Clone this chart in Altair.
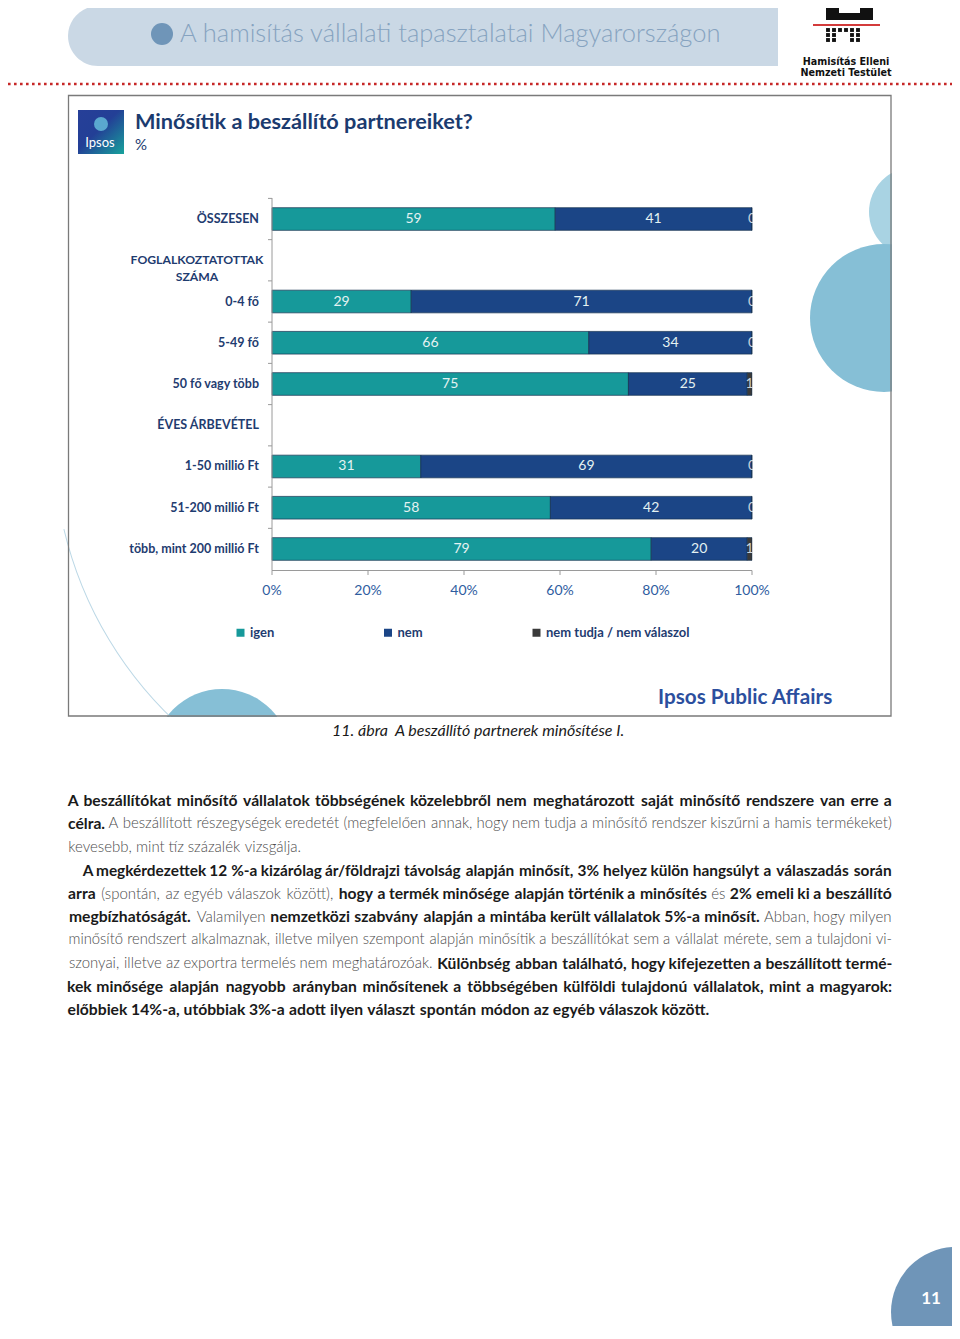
import unicodedata
import altair as alt
import pandas as pd

W, H = 944, 1318
OX, OY = 8, 8


def px(x):
    return x - OX


def py(y):
    return y - OY


# ---------------- data ----------------
categories = ["ÖSSZESEN", "FOGLALKOZTATOTTAK SZÁMA", "0-4 fő", "5-49 fő", "50 fő vagy több",
              "ÉVES ÁRBEVÉTEL", "1-50 millió Ft", "51-200 millió Ft", "több, mint 200 millió Ft"]
bar_categories = ["ÖSSZESEN", "0-4 fő", "5-49 fő", "50 fő vagy több",
                  "1-50 millió Ft", "51-200 millió Ft", "több, mint 200 millió Ft"]
series = ["igen", "nem", "nem tudja / nem válaszol"]
igen = [59, 29, 66, 75, 31, 58, 79]
nem = [41, 71, 34, 25, 69, 42, 20]
nem_tudja = [0, 0, 0, 1, 0, 0, 1]
x_ticks = [0, 20, 40, 60, 80, 100]
x_tick_labels = ["0%", "20%", "40%", "60%", "80%", "100%"]
right_labels = ["ÖSSZESEN", "0-4 fő", "5-49 fő", "50 fő vagy több", "ÉVES ÁRBEVÉTEL",
                "1-50 millió Ft", "51-200 millió Ft", "több, mint 200 millió Ft"]
colors = ["#16999a", "#1b4586", "#3a3a3a"]

rows = []
for i, c in enumerate(bar_categories):
    for k, (s, vals) in enumerate(zip(series, [igen, nem, nem_tudja])):
        rows.append({"cat": c, "series": s, "value": vals[i], "ord": k})
df = pd.DataFrame(rows)

NAVY = "#1f3c70"
x_scale = alt.Scale(domain=[0, 100], range=[px(272), px(752)], nice=False, zero=False)
y_scale = alt.Scale(domain=categories, range=[py(198.4), py(569.6)], paddingInner=0.45, paddingOuter=0.225)

one = alt.Data(values=[{}])


def txt(text, x, y, size, color, weight="normal", align="left", font="Lato", style="normal", baseline="middle"):
    return alt.Chart(one).mark_text(text=text, align=align, baseline=baseline, font=font, fontSize=size,
                                    fontWeight=weight, fontStyle=style, color=color).encode(
        x=alt.value(px(x)), y=alt.value(py(y)))


def rect(x1, x2, y1, y2, color, **kw):
    return alt.Chart(one).mark_rect(color=color, **kw).encode(
        x=alt.value(px(x1)), x2=alt.value(px(x2)), y=alt.value(py(y1)), y2=alt.value(py(y2)))


def circ(x, y, r, color, opacity=1.0):
    # vega symbol size is the area of the bounding square
    return alt.Chart(one).mark_circle(color=color, opacity=opacity, size=(2 * r) ** 2).encode(
        x=alt.value(px(x)), y=alt.value(py(y)))


layers = []

# ---------------- decorative background of chart box ----------------
layers.append(circ(914, 212, 45, "#a9d3e3"))
layers.append(circ(884, 318, 74, "#86bfd6"))
layers.append(circ(222, 758, 69, "#86bfd6"))
layers.append(alt.Chart(one).mark_arc(color="#bcd8e6").encode(
    x=alt.value(px(440)), y=alt.value(py(440)), theta=alt.value(3.86), theta2=alt.value(4.48),
    radius=alt.value(387), radius2=alt.value(386)))
# masks outside the box
layers.append(rect(892, 960, 90, 740, "white"))
layers.append(rect(40, 900, 717, 850, "white"))
# box border
layers.append(alt.Chart(one).mark_rect(fillOpacity=0, stroke="#7a7a7a", strokeWidth=1.3).encode(
    x=alt.value(px(68.5)), x2=alt.value(px(891)), y=alt.value(py(95.5)), y2=alt.value(py(716))))

# ---------------- page header ----------------
layers.append(alt.Chart(one).mark_rect(color="#cad8e5", cornerRadius=30).encode(
    x=alt.value(px(68)), x2=alt.value(px(778)), y=alt.value(py(6)), y2=alt.value(py(66))))
layers.append(rect(730, 778, 6, 66, "#cad8e5"))
layers.append(circ(162, 34, 11, "#6f95b8"))
layers.append(txt("A hamisítás vállalati tapasztalatai Magyarországon", 180, 34, 25.5, "#86a3c0", weight=300))

# logo
layers.append(rect(826, 839, 8, 20, "#111111"))
layers.append(rect(860, 873, 8, 20, "#111111"))
layers.append(rect(826, 873, 13, 20, "#111111"))
layers.append(alt.Chart(one).mark_rule(color="#d33b3b", strokeWidth=1.8).encode(
    x=alt.value(px(813)), x2=alt.value(px(880)), y=alt.value(py(25))))
dots = pd.DataFrame({"dx": [828, 834, 840, 846, 852, 858, 828, 834, 852, 858, 828, 834, 852, 858],
                     "dy": [30, 30, 30, 30, 30, 30, 35, 35, 35, 35, 40, 40, 40, 40]})
dots["dx"] = dots["dx"] - OX
dots["dy"] = dots["dy"] - OY
layers.append(alt.Chart(dots).mark_square(color="#111111", size=15, opacity=1).encode(
    x=alt.X("dx:Q", scale=None), y=alt.Y("dy:Q", scale=None)))
layers.append(txt("Hamisítás Elleni", 846, 62, 9.6, "#111111", weight="bold", align="center", font="DejaVu Sans"))
layers.append(txt("Nemzeti Testület", 846, 73, 9.6, "#111111", weight="bold", align="center", font="DejaVu Sans"))
layers.append(alt.Chart(one).mark_rule(color="#c62828", strokeWidth=2.6, strokeDash=[2.6, 3.4]).encode(
    x=alt.value(0), x2=alt.value(W), y=alt.value(py(84))))

# ---------------- chart title & Ipsos logo ----------------
grad = alt.LinearGradient(gradient="linear", x1=0, y1=0, x2=1, y2=1,
                          stops=[alt.GradientStop(color="#263f98", offset=0),
                                 alt.GradientStop(color="#233f96", offset=0.45),
                                 alt.GradientStop(color="#17a39c", offset=1)])
layers.append(alt.Chart(one).mark_rect(color=grad).encode(
    x=alt.value(px(78)), x2=alt.value(px(124)), y=alt.value(py(110)), y2=alt.value(py(154))))
layers.append(circ(101, 124, 7, "#5aa8cf"))
layers.append(txt("Ipsos", 100, 143, 13, "white", align="center", weight="normal"))
layers.append(txt("Minősítik a beszállító partnereiket?", 135, 122, 21.7, "#1b3b6f", weight="bold"))
layers.append(txt("%", 135, 145, 15, "#1b3b6f"))

# ---------------- bars ----------------
stacked = alt.Chart(df).transform_stack(
    stack="value", groupby=["cat"], as_=["v0", "v1"], offset="normalize",
    sort=[alt.SortField("ord", order="ascending")]
).transform_calculate(x0="datum.v0*100", x1="datum.v1*100", mid="(datum.v0+datum.v1)*50")

bars = stacked.mark_bar(stroke="#14304f", strokeWidth=0.7).encode(
    y=alt.Y("cat:N", scale=y_scale, axis=None),
    x=alt.X("x0:Q", scale=x_scale, axis=None),
    x2="x1:Q",
    color=alt.Color("series:N", scale=alt.Scale(domain=series, range=colors),
                    legend=alt.Legend(orient="none", legendX=px(234), legendY=py(626), direction="horizontal",
                                      title=None, symbolType="square", symbolSize=64, symbolStrokeWidth=0,
                                      labelFont="Lato", labelFontWeight="bold", labelFontSize=13,
                                      labelColor=NAVY, columnPadding=106.5, labelOffset=3, padding=0)),
)
layers.append(bars)

vlabels = stacked.mark_text(font="Lato", fontSize=14, baseline="middle", align="center").encode(
    y=alt.Y("cat:N", scale=y_scale, axis=None),
    x=alt.X("mid:Q", scale=x_scale, axis=None),
    text=alt.Text("value:Q"),
    color=alt.condition("datum.ord == 2", alt.value("#c9d2dc"), alt.value("#e4f2f2")),
)
layers.append(vlabels)
# clip labels at the bar end
layers.append(rect(752.6, 775, 196, 569, "white"))

# y axis
layers.append(alt.Chart(alt.Data(values=[{"a": 0}])).mark_rule(color="#9a9a9a", strokeWidth=1).encode(
    x=alt.X("a:Q", scale=x_scale, axis=None), y=alt.value(py(198)), y2=alt.value(py(570.5))))
layers.append(alt.Chart(pd.DataFrame({"cat": categories})).mark_rule(color="#9a9a9a", yOffset=-9.28).encode(
    y=alt.Y("cat:N", scale=y_scale, axis=None, bandPosition=0),
    x=alt.value(px(268)), x2=alt.value(px(272))))
# x axis
layers.append(alt.Chart(alt.Data(values=[{"a": 0, "b": 100}])).mark_rule(color="#9a9a9a").encode(
    x=alt.X("a:Q", scale=x_scale, axis=None), x2="b:Q", y=alt.value(py(570.5))))
tick_df = pd.DataFrame({"t": x_ticks, "lab": x_tick_labels})
layers.append(alt.Chart(tick_df).mark_rule(color="#9a9a9a").encode(
    x=alt.X("t:Q", scale=x_scale, axis=None), y=alt.value(py(570.5)), y2=alt.value(py(575))))
layers.append(alt.Chart(tick_df).mark_text(font="Lato", fontSize=14, color="#2f5d9f", baseline="middle").encode(
    x=alt.X("t:Q", scale=x_scale, axis=None), y=alt.value(py(591)), text="lab:N"))

# category labels
lab_df = pd.DataFrame({"cat": right_labels})
layers.append(alt.Chart(lab_df).mark_text(font="Lato", fontSize=12.5, fontWeight="bold", color=NAVY,
                                          align="right", baseline="middle").encode(
    y=alt.Y("cat:N", scale=y_scale, axis=None), x=alt.value(px(259)), text="cat:N"))
layers.append(alt.Chart(pd.DataFrame({"cat": ["FOGLALKOZTATOTTAK SZÁMA"],
                                      "lab": ["FOGLALKOZTATOTTAK\nSZÁMA"]})).mark_text(
    font="Lato", fontSize=12.2, fontWeight="bold", color=NAVY, align="center", baseline="middle",
    lineBreak="\n", lineHeight=17).encode(
    y=alt.Y("cat:N", scale=y_scale, axis=None), x=alt.value(px(197)), text="lab:N"))

layers.append(txt("Ipsos Public Affairs", 658, 698, 20.7, "#2c4f9e", weight="bold"))

# caption
layers.append(txt("11. ábra", 332, 731, 16, "#1a1a1a", style="italic"))
layers.append(txt("A beszállító partnerek minősítése I.", 395, 731, 16, "#1a1a1a", style="italic"))

# ---------------- body text (justified word by word) ----------------
BOLD_SIZE = 15.7
LIGHT_SIZE = 15.0
BOLD_COL = "#1a1a1a"
LIGHT_COL = "#4d4d4d"
MIN_GAP = 3.6

REL = {}
for ch in "iljI.,:;!'|": REL[ch] = 0.24
for ch in "ftr()-/": REL[ch] = 0.34
for ch in "cskxz": REL[ch] = 0.44
for ch in "aegvy": REL[ch] = 0.51
for ch in "bdhnopqu": REL[ch] = 0.56
for ch in "mw": REL[ch] = 0.82
for ch in "0123456789": REL[ch] = 0.58
REL["%"] = 0.80
REL[" "] = 0.20
REL["M"] = 0.85
REL["W"] = 0.9


def raw_w(s):
    t = 0.0
    for ch in s:
        base = unicodedata.normalize("NFD", ch)[0]
        if base in REL:
            t += REL[base]
        elif base.isupper():
            t += 0.64
        else:
            t += 0.52
    return t


# calibration: measured rendered widths at 13.6 px
CAL_B = 552.0 / (13.6 * raw_w("előbbiek 14%-a, utóbbiak 3%-a adott ilyen választ spontán módon az egyéb válaszok között."))
CAL_L = 210.0 / (13.6 * raw_w("kevesebb, mint tíz százalék vizsgálja."))

body_lines = [
    (801, 68, True, [("A beszállítókat minősítő vállalatok többségének közelebbről nem meghatározott "
                      "saját minősítő rendszere van erre a", True)]),
    (824, 68, True, [("célra.", True),
                     ("A beszállított részegységek eredetét (megfelelően annak, hogy nem tudja a "
                      "minősítő rendszer kiszűrni a hamis termékeket)", False)]),
    (847, 68, False, [("kevesebb, mint tíz százalék vizsgálja.", False)]),
    (871, 83, True, [("A megkérdezettek 12 %-a kizárólag ár/földrajzi távolság alapján minősít, "
                      "3% helyez külön hangsúlyt a válaszadás során", True)]),
    (894, 68, True, [("arra", True), ("(spontán, az egyéb válaszok között),", False),
                     ("hogy a termék minősége alapján történik a minősítés", True), ("és", False),
                     ("2% emeli ki a beszállító", True)]),
    (917, 68, True, [("megbízhatóságát.", True), ("Valamilyen", False),
                     ("nemzetközi szabvány alapján a mintába került vállalatok 5%-a minősít.", True),
                     ("Abban, hogy milyen", False)]),
    (940, 68, True, [("minősítő rendszert alkalmaznak, illetve milyen szempont alapján minősítik a "
                      "beszállítókat sem a vállalat mérete, sem a tulajdoni vi-", False)]),
    (964, 68, True, [("szonyai, illetve az exportra termelés nem meghatározóak.", False),
                     ("Különbség abban található, hogy kifejezetten a beszállított termé-", True)]),
    (987, 68, True, [("kek minősége alapján nagyobb arányban minősítenek a többségében külföldi "
                      "tulajdonú vállalatok, mint a magyarok:", True)]),
    (1010, 68, False, [("előbbiek 14%-a, utóbbiak 3%-a adott ilyen választ spontán módon az egyéb "
                        "válaszok között.", True)]),
]
X_END = 892
word_rows = []
for yy, x0, just, runs in body_lines:
    words = []
    for t, b in runs:
        for w in t.split(" "):
            words.append((w, b))
    ests = [raw_w(w) * (BOLD_SIZE * CAL_B if b else LIGHT_SIZE * CAL_L) for w, b in words]
    total = sum(ests)
    n = len(words)
    fs = 1.0
    if just:
        gap = (X_END - x0 - total) / (n - 1)
        if gap < MIN_GAP:
            fs = (X_END - x0 - MIN_GAP * (n - 1)) / total
            ests = [e * fs for e in ests]
            gap = MIN_GAP
    else:
        gap = 0.22 * BOLD_SIZE * CAL_B
    x = x0
    for (w, b), e in zip(words, ests):
        word_rows.append({"wx": px(x + e / 2), "wy": py(yy), "word": w, "bold": b,
                          "fs": (BOLD_SIZE if b else LIGHT_SIZE) * fs})
        x += e + gap
wdf = pd.DataFrame(word_rows)

layers.append(alt.Chart(wdf[wdf["bold"]]).mark_text(font="Lato", fontWeight="bold", color=BOLD_COL,
                                                   align="center", baseline="middle").encode(
    x=alt.X("wx:Q", scale=None), y=alt.Y("wy:Q", scale=None), text="word:N",
    size=alt.Size("fs:Q", scale=None, legend=None)))
layers.append(alt.Chart(wdf[~wdf["bold"]]).mark_text(font="Lato", fontWeight=300, color=LIGHT_COL,
                                                    align="center", baseline="middle").encode(
    x=alt.X("wx:Q", scale=None), y=alt.Y("wy:Q", scale=None), text="word:N",
    size=alt.Size("fs:Q", scale=None, legend=None)))

# page number
layers.append(circ(956, 1312, 65, "#6f95b8"))
layers.append(txt("11", 931, 1299, 17, "white", weight="bold", align="center"))

chart = alt.layer(*layers).properties(
    width=W, height=H, padding=0, autosize=alt.AutoSizeParams(type="none"), background="white"
).configure_view(stroke=None)

chart.save("out.html", embed_options={"renderer": "svg", "actions": False})
